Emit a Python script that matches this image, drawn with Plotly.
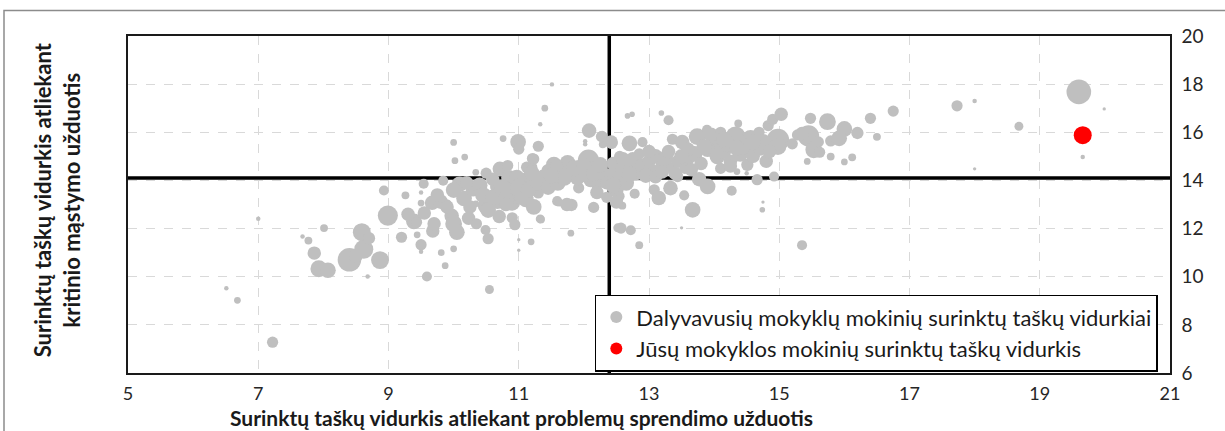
import plotly.graph_objects as go

# ---- data -------------------------------------------------------------
schools_x = [
    6.51, 6.68, 7.22, 7.00, 7.68, 7.77, 8.01, 7.86, 7.93, 8.07, 8.40, 8.50, 8.59, 8.62, 8.70, 8.87, 8.68, 8.99, 8.93,
    9.20, 9.44, 9.50, 9.50, 9.59, 9.68, 9.81, 9.87, 9.26, 9.50, 9.50, 9.54, 9.84, 9.67, 9.80, 9.90, 9.39, 9.43, 9.97, 10.00, 10.05, 10.00, 10.00, 10.02, 10.17,
    10.09, 10.16, 10.30, 10.34, 10.34, 10.23, 10.49, 10.53, 10.50, 10.49, 10.62, 10.67, 10.55, 10.53, 10.71, 10.83, 10.76, 10.99, 11.00, 10.85, 10.88, 10.90, 10.90, 10.94, 11.00, 11.00, 10.97,
    11.11, 11.23, 11.19, 11.30, 11.34, 11.30, 11.23, 11.12, 11.20, 11.38, 11.13, 11.21, 11.40, 11.51, 11.33, 11.54, 11.52, 11.59, 11.62, 11.75, 11.80, 11.81, 11.80, 11.92, 11.92, 12.07, 12.08, 12.28, 12.02, 12.02, 12.29, 12.15, 12.23, 12.10, 12.30, 12.20, 12.00, 11.65, 11.90, 11.45, 12.52, 11.74, 11.58, 12.42, 11.33,
    12.67, 12.74, 13.19, 13.30, 12.27, 12.43, 12.70, 12.90, 13.36, 12.39, 12.49, 12.54, 12.59, 12.78, 13.08, 13.15, 13.33, 13.54, 13.44, 12.57, 12.72, 12.85, 13.50,
    12.50, 12.45, 12.60, 12.70, 12.80, 12.75, 12.90, 13.00, 13.05, 13.10, 13.20, 13.25, 13.30, 13.35, 12.55, 12.85, 13.45, 12.40,
    13.51, 13.74, 13.89, 14.02, 14.33, 14.37, 14.56, 14.69, 14.83, 14.90, 15.03, 14.98, 14.98, 15.20, 15.28, 13.67, 13.77, 13.90, 14.27, 14.66, 14.92, 14.74, 14.75, 14.51, 14.35, 14.50,
    13.60, 13.70, 13.80, 13.90, 14.05, 14.15, 14.25, 14.40, 14.50, 14.60, 14.70, 14.80, 13.55, 14.10, 14.75, 14.20, 14.45, 13.95, 14.10,
    15.48, 15.45, 15.53, 15.43, 15.74, 15.79, 15.79, 15.35, 15.60, 15.35,
    16.00, 15.92, 16.20, 16.40, 16.50, 16.75, 16.00, 16.12, 15.62, 17.73, 18.00, 18.00, 18.68, 19.60, 19.66, 19.99,
    9.75, 10.00, 10.20, 10.40, 10.45, 10.60, 10.75, 10.80, 11.00, 11.05, 11.15, 11.30, 11.45, 11.60, 11.70, 11.85, 12.00, 12.15, 11.50, 11.20, 10.60, 10.50, 12.25, 12.35, 12.20, 12.35,
    12.55, 12.65, 12.70, 12.95, 13.10, 13.20, 12.45, 12.50, 12.60, 13.00, 13.60, 13.50, 13.85, 14.15, 14.60, 14.35, 14.85, 14.25, 13.65, 13.40,
    9.30, 9.55, 9.70, 9.90, 10.25, 10.35, 10.70, 10.80,
]
schools_y = [
    9.52, 9.02, 7.28, 12.41, 11.67, 11.50, 12.02, 10.98, 10.33, 10.27, 10.70, 10.85, 11.85, 11.14, 11.60, 10.69, 10.01, 12.54, 13.58,
    11.64, 11.74, 11.33, 11.04, 10.01, 11.90, 11.00, 10.46, 13.38, 13.50, 13.06, 13.86, 13.99, 13.07, 13.12, 13.00, 12.30, 12.26, 12.53, 12.20, 11.85, 11.16, 15.58, 14.82, 14.97,
    13.84, 13.25, 13.66, 14.34, 13.03, 12.43, 11.94, 11.58, 12.95, 13.35, 13.74, 13.14, 9.47, 12.77, 14.48, 14.62, 15.74, 15.60, 15.30, 14.11, 13.49, 13.07, 12.45, 12.16, 11.54, 11.10, 14.12,
    13.21, 12.90, 11.45, 13.48, 12.38, 15.42, 14.89, 14.55, 14.55, 14.13, 14.04, 14.91, 17.00, 17.99, 16.33, 14.66, 14.04, 13.14, 13.08, 14.73, 14.30, 12.98, 11.81, 14.52, 13.69, 14.84, 16.07, 15.83, 15.63, 15.50, 15.50, 12.88, 14.39, 14.00, 14.20, 13.80, 14.20, 14.30, 14.10, 14.40, 12.03, 13.00, 14.60, 15.60, 12.40,
    16.68, 16.75, 16.80, 16.50, 15.82, 15.54, 15.54, 15.59, 15.71, 14.03, 13.61, 13.34, 12.95, 13.45, 13.61, 13.27, 13.68, 13.38, 14.16, 12.02, 11.93, 11.31, 12.03,
    14.40, 14.70, 14.50, 14.70, 14.30, 14.90, 14.60, 14.80, 14.40, 15.00, 14.60, 14.90, 15.20, 14.50, 15.00, 15.10, 14.80, 14.20,
    15.59, 15.82, 16.10, 15.61, 15.82, 16.37, 15.75, 16.00, 16.28, 16.54, 16.75, 15.68, 15.41, 15.52, 15.89, 12.78, 14.05, 13.75, 13.57, 14.03, 14.16, 12.78, 13.10, 14.65, 14.37, 14.30,
    14.90, 15.10, 14.70, 15.30, 15.00, 15.20, 14.80, 15.10, 15.40, 15.00, 15.30, 14.80, 14.50, 14.50, 15.60, 15.50, 15.60, 15.90, 16.00,
    16.58, 15.85, 15.27, 14.79, 16.44, 15.64, 14.99, 11.31, 15.60, 15.95,
    16.14, 15.75, 15.97, 16.58, 15.81, 16.88, 14.77, 14.96, 15.17, 17.10, 17.30, 14.48, 16.25, 17.68, 14.97, 16.97,
    13.40, 13.60, 13.90, 13.80, 13.40, 13.30, 13.70, 13.20, 13.70, 13.30, 13.60, 13.90, 13.70, 13.90, 14.10, 14.50, 14.60, 14.30, 14.20, 14.30, 14.05, 14.30, 14.65, 13.90, 13.50, 13.30,
    14.10, 13.90, 14.25, 14.20, 14.15, 14.35, 13.80, 13.10, 14.90, 15.20, 15.30, 15.00, 15.40, 15.70, 15.60, 15.35, 15.20, 14.60, 14.45, 14.30,
    12.60, 12.65, 12.20, 12.90, 12.90, 12.20, 12.50, 13.00,
]
schools_n = [
    4, 6, 10, 4, 4, 7, 7, 12, 15, 14, 21, 12, 16, 17, 11, 16, 4, 18, 9,
    10, 6, 10, 4, 9, 12, 6, 6, 7, 4, 6, 9, 9, 13, 13, 9, 14, 10, 13, 15, 14, 6, 6, 6, 6,
    14, 14, 14, 6, 6, 12, 9, 10, 15, 10, 7, 14, 8, 14, 13, 10, 6, 14, 10, 14, 18, 14, 10, 10, 3, 3, 14,
    14, 14, 6, 10, 7, 10, 10, 10, 10, 14, 14, 10, 6, 4, 4, 14, 14, 9, 7, 14, 14, 11, 6, 14, 10, 19, 13, 10, 4, 4, 7, 10, 14, 12, 14, 10, 12, 12, 13, 12, 8, 12, 12, 12, 8,
    5, 5, 5, 9, 10, 10, 14, 9, 10, 14, 14, 10, 7, 9, 10, 13, 13, 9, 10, 10, 9, 7, 3,
    14, 12, 14, 13, 13, 12, 14, 12, 12, 13, 12, 14, 12, 10, 10, 10, 12, 13,
    13, 15, 9, 15, 18, 7, 15, 10, 10, 10, 12, 20, 15, 10, 10, 14, 13, 14, 9, 10, 9, 5, 3, 11, 6, 4,
    12, 14, 12, 14, 14, 13, 12, 14, 14, 12, 12, 12, 10, 10, 14, 14, 12, 13, 10,
    10, 19, 15, 6, 15, 10, 7, 9, 10, 12,
    14, 14, 11, 10, 7, 10, 6, 7, 10, 10, 4, 3, 8, 22, 4, 3,
    12, 14, 12, 14, 14, 14, 15, 15, 16, 14, 14, 14, 13, 14, 14, 14, 14, 14, 14, 14, 12, 10, 14, 12, 12, 10,
    14, 14, 14, 13, 12, 12, 14, 12, 12, 12, 12, 13, 14, 14, 14, 14, 12, 12, 12, 12,
    12, 12, 12, 12, 12, 10, 12, 12,
]
my_school_x = [19.66]
my_school_y = [15.88]

ref_x = 12.39   # overall mean, problem solving
ref_y = 14.10   # overall mean, critical thinking

x_ticks = [5, 7, 9, 11, 13, 15, 17, 19, 21]
y_ticks = [6, 8, 10, 12, 14, 16, 18, 20]

series_names = ["Dalyvavusių mokyklų mokinių surinktų taškų vidurkiai",
                "Jūsų mokyklos mokinių surinktų taškų vidurkis"]
x_title = "Surinktų taškų vidurkis atliekant problemų sprendimo užduotis"
y_title = "Surinktų taškų vidurkis atliekant<br>kritinio mąstymo užduotis"

FONT = "Lato"
GREY = "#bfbfbf"
RED = "#ff0000"
SIZE_SCALE = 1.12

fig = go.Figure()

# reference lines (drawn under the markers)
fig.add_trace(go.Scatter(x=[ref_x, ref_x], y=[y_ticks[0], y_ticks[-1]], mode="lines",
                         line=dict(color="black", width=3.5), showlegend=False, hoverinfo="skip"))
fig.add_trace(go.Scatter(x=[x_ticks[0], x_ticks[-1]], y=[ref_y, ref_y], mode="lines",
                         line=dict(color="black", width=3.5), showlegend=False, hoverinfo="skip"))

fig.add_trace(go.Scatter(x=schools_x, y=schools_y, mode="markers", name=series_names[0],
                         marker=dict(color=GREY, size=[n * SIZE_SCALE for n in schools_n],
                                     line=dict(width=0), opacity=1)))
fig.add_trace(go.Scatter(x=my_school_x, y=my_school_y, mode="markers", name=series_names[1],
                         marker=dict(color=RED, size=18, line=dict(width=0))))

axis_common = dict(showgrid=True, gridcolor="#d9d9d9", griddash="dash", gridwidth=1,
                   zeroline=False, showline=True, linecolor="#1a1a1a", linewidth=1.5, mirror=True,
                   ticks="")

fig.update_xaxes(range=[x_ticks[0], x_ticks[-1]], tickvals=x_ticks, ticklabelstandoff=4,
                 tickfont=dict(family=FONT, size=18, color="#262626"), **axis_common)
fig.update_yaxes(range=[y_ticks[0], y_ticks[-1]], tickvals=y_ticks, side="right", ticklabelstandoff=6,
                 tickfont=dict(family=FONT, size=19, color="#262626"), **axis_common)

fig.update_layout(
    width=1225, height=431,
    margin=dict(l=128, r=55, t=36, b=58),
    paper_bgcolor="white", plot_bgcolor="white",
    font=dict(family=FONT, color="#1a1a1a"),
    legend=dict(x=0.448, y=0.004, xanchor="left", yanchor="bottom",
                bgcolor="white", bordercolor="black", borderwidth=1.5,
                font=dict(family=FONT, size=22, color="#1a1a1a"),
                itemsizing="constant", tracegroupgap=0),
    annotations=[
        dict(text=f"<b>{x_title}</b>", xref="paper", yref="paper", x=0.378, y=-0.131,
             xanchor="center", yanchor="middle", showarrow=False,
             font=dict(family=FONT, size=21, color="#1a1a1a")),
        dict(text=f"<b>{y_title}</b>", xref="paper", yref="paper", x=-0.068, y=0.513,
             xanchor="center", yanchor="middle", showarrow=False, textangle=-90,
             font=dict(family=FONT, size=22, color="#1a1a1a")),
    ],
    shapes=[dict(type="rect", xref="paper", yref="paper", x0=-0.119, x1=1.06, y0=-0.25, y1=1.0756,
                 line=dict(color="#8c8c8c", width=1.5), fillcolor="rgba(0,0,0,0)", layer="below")],
    showlegend=True,
)

fig.write_html("out.html", config={"displayModeBar": False},
               post_script="document.body.style.margin='0px';document.body.style.overflow='hidden';")
